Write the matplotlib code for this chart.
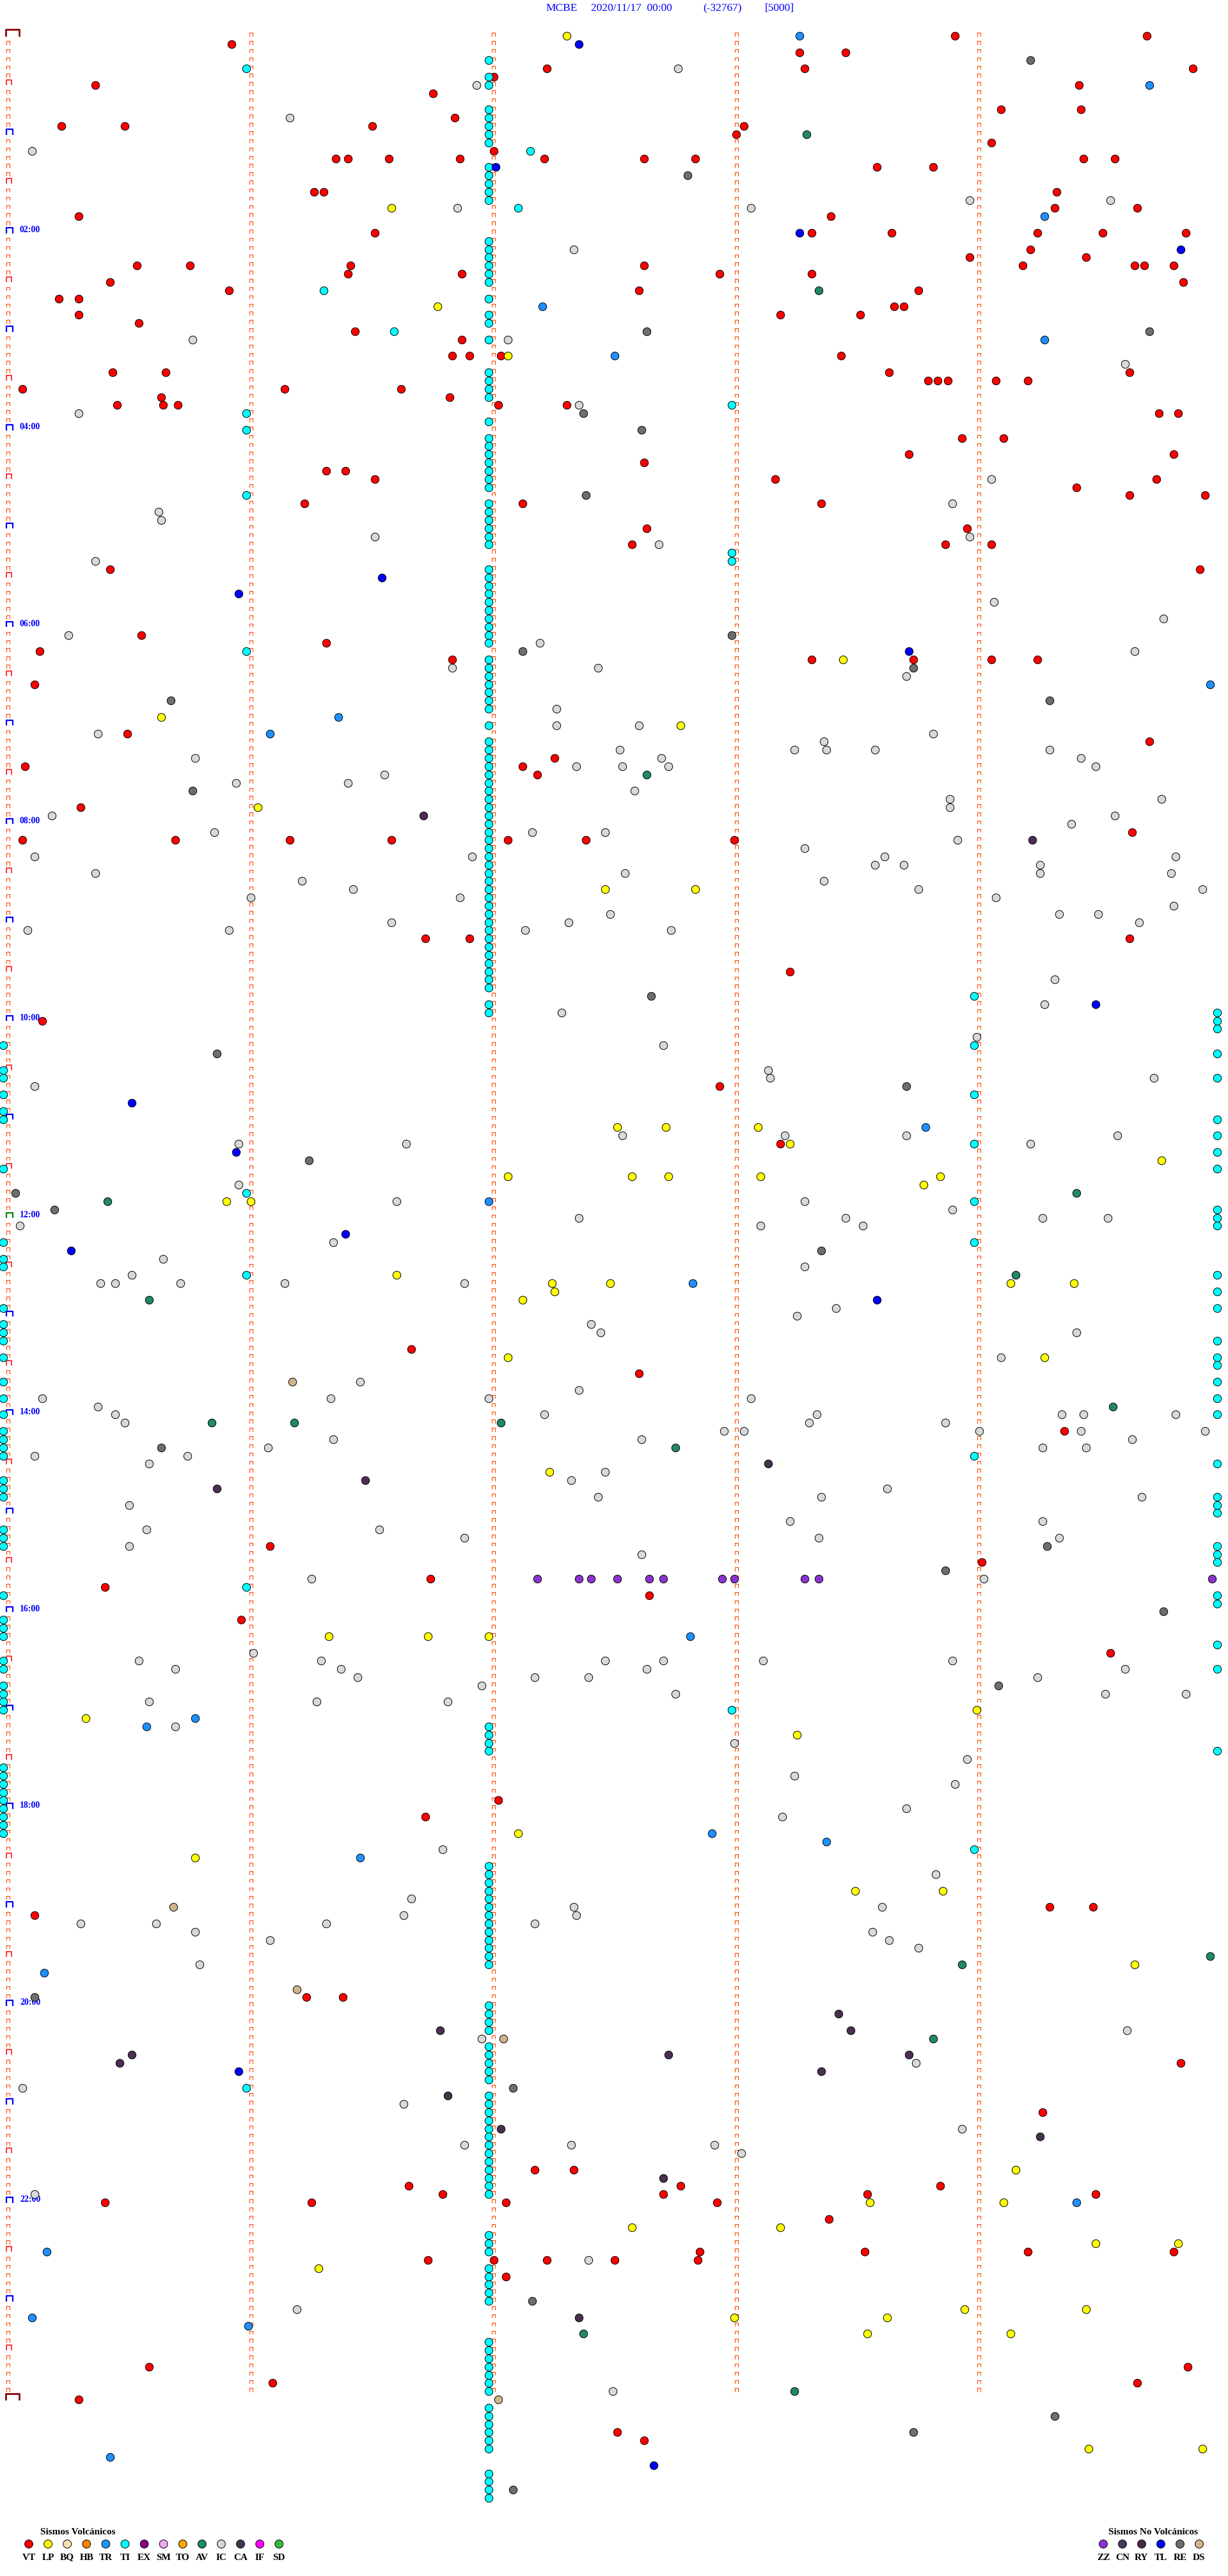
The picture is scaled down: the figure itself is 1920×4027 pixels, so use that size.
import matplotlib.pyplot as plt
from matplotlib.collections import LineCollection

plt.rcParams['font.family'] = ['Liberation Serif', 'DejaVu Serif']

# events: (5-minute line index, minute inside the line)
vt = [(0, 3.90), (0, 4.69), (1, 0.92), (2, 3.26), (2, 3.45), (4, 2.22), (4, 3.28), (4, 4.88), (5, 2.00),
      (6, 0.36), (6, 4.41), (7, 1.75), (9, 4.09), (9, 4.42), (10, 1.84), (11, 0.22), (11, 0.48), (11, 1.50),
      (11, 3.03), (12, 3.00), (13, 4.05), (14, 2.00), (15, 1.35), (15, 1.40), (15, 1.57), (15, 1.86), (15, 2.21),
      (15, 2.62), (15, 2.83), (15, 4.43), (15, 4.56), (16, 3.58), (16, 3.81), (19, 1.26), (19, 1.30), (19, 4.32),
      (21, 4.31), (21, 4.65), (22, 0.29), (22, 3.39), (24, 1.51), (24, 3.31), (24, 3.64), (24, 4.24), (24, 4.51),
      (24, 4.85), (26, 4.21), (27, 3.96), (27, 4.44), (28, 0.53), (28, 0.75), (28, 1.41), (28, 2.62), (28, 4.18),
      (28, 4.64), (28, 4.68), (28, 4.80), (29, 1.40), (29, 1.87), (29, 2.93), (29, 3.31), (30, 0.42), (30, 4.84),
      (31, 0.91), (31, 2.60), (31, 3.75), (32, 0.21), (32, 0.29), (33, 3.65), (33, 3.69), (34, 0.29), (34, 3.18),
      (34, 3.51), (35, 0.54), (36, 1.43), (37, 1.87), (39, 1.83), (39, 1.90), (39, 2.03), (39, 3.43), (41, 0.43),
      (41, 0.65), (41, 3.63), (41, 4.62), (42, 3.79), (42, 3.83), (42, 3.87), (42, 4.07), (42, 4.20), (43, 0.06),
      (43, 1.14), (43, 1.62), (44, 0.63), (44, 1.82), (45, 0.45), (45, 0.64), (45, 0.70), (45, 2.02), (45, 2.30),
      (46, 4.74), (46, 4.82), (49, 3.93), (49, 4.10), (51, 3.71), (51, 4.80), (52, 2.62), (53, 1.31), (53, 1.39),
      (54, 1.51), (54, 3.16), (54, 4.73), (55, 4.40), (56, 4.62), (56, 4.93), (57, 1.22), (57, 2.12), (57, 3.35),
      (60, 2.63), (60, 3.95), (62, 2.57), (62, 3.86), (62, 4.05), (65, 0.42), (65, 4.91), (73, 0.55), (74, 1.31),
      (75, 0.13), (76, 1.83), (76, 3.31), (76, 3.73), (76, 4.05), (76, 4.24), (79, 0.11), (85, 0.49), (86, 4.70),
      (88, 2.25), (89, 0.07), (89, 2.12), (90, 2.18), (94, 0.30), (97, 4.63), (98, 0.06), (98, 0.69), (98, 1.16),
      (98, 1.58), (98, 2.06), (98, 2.38), (98, 2.99), (110, 1.72), (110, 1.90), (110, 4.62), (114, 3.22),
      (120, 0.14), (128, 2.93), (135, 3.18), (160, 1.66), (163, 2.60), (170, 4.35), (184, 1.08), (186, 4.01),
      (188, 1.74), (189, 0.40), (190, 2.64), (193, 0.96), (197, 4.54), (215, 2.02), (217, 1.72), (228, 4.29),
      (228, 4.47), (229, 0.11), (239, 1.23), (239, 1.38), (247, 4.83), (253, 4.26), (260, 2.17), (260, 2.33),
      (262, 1.65), (262, 2.77), (262, 3.84), (263, 1.79), (263, 2.70), (263, 3.54), (263, 4.48), (264, 0.40),
      (264, 1.25), (264, 2.05), (264, 2.92), (266, 3.38), (270, 2.85), (270, 3.53), (270, 4.20), (270, 4.80),
      (271, 1.73), (271, 2.00), (271, 2.22), (271, 2.50), (271, 2.84), (273, 2.05), (284, 0.58), (284, 4.86),
      (286, 1.09), (286, 4.65), (288, 0.29), (292, 2.51), (293, 2.62)]

lp = [(0, 2.30), (21, 1.58), (33, 1.77), (39, 2.06), (76, 3.44), (83, 0.63), (84, 2.77), (94, 1.03), (104, 2.46),
      (104, 2.83), (133, 2.51), (133, 2.71), (133, 3.09), (135, 3.22), (137, 4.75), (139, 2.06), (139, 2.57),
      (139, 2.72), (139, 3.10), (139, 3.84), (140, 3.77), (142, 0.90), (142, 1.00), (151, 1.60), (152, 2.24),
      (152, 2.48), (152, 4.13), (152, 4.39), (153, 2.25), (154, 2.12), (161, 2.06), (161, 4.27), (175, 2.23),
      (195, 1.32), (195, 1.73), (195, 1.98), (204, 3.99), (205, 0.32), (207, 3.25), (219, 2.10), (222, 0.77),
      (226, 3.49), (226, 3.85), (235, 4.64), (260, 4.15), (264, 3.55), (264, 4.10), (267, 2.57), (267, 3.18),
      (269, 4.48), (269, 4.82), (272, 1.28), (277, 3.94), (277, 4.44), (278, 2.99), (278, 3.62), (280, 3.54),
      (280, 4.13), (294, 4.45), (294, 4.92)]

tr = [(0, 3.26), (6, 4.70), (22, 4.27), (33, 2.20), (37, 4.27), (39, 2.50), (79, 4.95), (83, 1.36), (85, 1.08),
      (133, 3.78), (142, 1.98), (152, 2.82), (195, 2.81), (205, 0.77), (206, 0.57), (219, 2.90), (220, 3.37),
      (222, 1.45), (236, 0.15), (264, 4.40), (270, 0.16), (278, 0.10), (279, 0.99), (295, 0.42)]

ti = [(3, 1.98), (4, 0.98), (5, 1.98), (6, 1.98), (9, 1.98), (10, 1.98), (11, 1.98), (12, 1.98), (13, 1.98),
      (14, 2.15), (16, 1.98), (17, 1.98), (18, 1.98), (19, 1.98), (20, 1.98), (21, 2.10), (25, 1.98), (26, 1.98),
      (27, 1.98), (28, 1.98), (29, 1.98), (30, 1.98), (31, 1.30), (32, 1.98), (34, 1.98), (35, 1.98), (36, 1.59),
      (37, 1.98), (41, 1.98), (42, 1.98), (43, 1.98), (44, 1.98), (45, 2.98), (46, 0.98), (47, 1.98), (48, 0.98),
      (49, 1.98), (50, 1.98), (51, 1.98), (52, 1.98), (53, 1.98), (54, 1.98), (55, 1.98), (56, 0.98), (57, 1.98),
      (58, 1.98), (59, 1.98), (60, 1.98), (61, 1.98), (62, 1.98), (63, 2.98), (64, 2.98), (65, 1.98), (66, 1.98),
      (67, 1.98), (68, 1.98), (69, 1.98), (70, 1.98), (71, 1.98), (72, 1.98), (73, 1.98), (74, 1.98), (75, 0.98),
      (76, 1.98), (77, 1.98), (78, 1.98), (79, 1.98), (80, 1.98), (81, 1.98), (82, 1.98), (84, 1.98), (86, 1.98),
      (87, 1.98), (88, 1.98), (89, 1.98), (90, 1.98), (91, 1.98), (92, 1.98), (93, 1.98), (94, 1.98), (95, 1.98),
      (96, 1.98), (97, 1.98), (98, 1.98), (99, 1.98), (100, 1.98), (101, 1.98), (102, 1.98), (103, 1.98),
      (104, 1.98), (105, 1.98), (106, 1.98), (107, 1.98), (108, 1.98), (109, 1.98), (110, 1.98), (111, 1.98),
      (112, 1.98), (113, 1.98), (114, 1.98), (115, 1.98), (116, 1.98), (117, 3.98), (118, 1.98), (119, 1.98),
      (119, 4.98), (120, 4.98), (121, 4.98), (123, -0.02), (123, 3.98), (124, 4.98), (126, -0.02), (127, -0.02),
      (127, 4.98), (129, -0.02), (129, 3.98), (131, -0.02), (132, -0.02), (132, 4.98), (134, 4.98), (135, 3.98),
      (136, 4.98), (138, -0.02), (138, 4.98), (141, 0.98), (142, 3.98), (143, 4.98), (144, 4.98), (145, 4.98),
      (147, -0.02), (147, 3.98), (149, -0.02), (150, -0.02), (151, 0.98), (151, 4.98), (153, 4.98), (155, -0.02),
      (155, 4.98), (157, -0.02), (158, -0.02), (159, -0.02), (159, 4.98), (161, -0.02), (161, 4.98), (162, 4.98),
      (164, -0.02), (164, 4.98), (166, -0.02), (166, 4.98), (168, -0.02), (168, 4.98), (170, -0.02), (171, -0.02),
      (172, -0.02), (173, -0.02), (173, 3.98), (174, 4.98), (176, -0.02), (177, -0.02), (178, -0.02), (178, 4.98),
      (179, 4.98), (180, 4.98), (182, -0.02), (183, -0.02), (184, -0.02), (184, 4.98), (185, 4.98), (186, 4.98),
      (189, 0.98), (190, -0.02), (190, 4.98), (191, 4.98), (193, -0.02), (194, -0.02), (195, -0.02), (196, 4.98),
      (198, -0.02), (199, -0.02), (199, 4.98), (201, -0.02), (202, -0.02), (203, -0.02), (204, -0.02), (204, 2.98),
      (206, 1.98), (207, 1.98), (208, 1.98), (209, 1.98), (209, 4.98), (211, -0.02), (212, -0.02), (213, -0.02),
      (214, -0.02), (215, -0.02), (216, -0.02), (217, -0.02), (218, -0.02), (219, -0.02), (221, 3.98), (223, 1.98),
      (224, 1.98), (225, 1.98), (226, 1.98), (227, 1.98), (228, 1.98), (229, 1.98), (230, 1.98), (231, 1.98),
      (232, 1.98), (233, 1.98), (234, 1.98), (235, 1.98), (240, 1.98), (241, 1.98), (242, 1.98), (243, 1.98),
      (245, 1.98), (246, 1.98), (247, 1.98), (248, 1.98), (249, 1.98), (250, 0.98), (251, 1.98), (252, 1.98),
      (253, 1.98), (254, 1.98), (255, 1.98), (256, 1.98), (257, 1.98), (258, 1.98), (259, 1.98), (260, 1.98),
      (261, 1.98), (262, 1.98), (263, 1.98), (268, 1.98), (269, 1.98), (270, 1.98), (272, 1.98), (273, 1.98),
      (274, 1.98), (275, 1.98), (276, 1.98), (281, 1.98), (282, 1.98), (283, 1.98), (284, 1.98), (285, 1.98),
      (286, 1.98), (287, 1.98), (289, 1.98), (290, 1.98), (291, 1.98), (292, 1.98), (293, 1.98), (294, 1.98),
      (297, 1.98), (298, 1.98), (299, 1.98), (300, 1.98)]

av = [(12, 3.29), (31, 3.34), (90, 2.63), (141, 4.40), (142, 0.41), (151, 4.15), (154, 0.58), (167, 4.55),
      (169, 0.84), (169, 1.18), (169, 2.03), (172, 2.75), (234, 4.95), (235, 3.93), (244, 3.81), (280, 2.37),
      (287, 3.24)]

ic = [(4, 2.76), (6, 1.93), (10, 1.16), (14, 0.10), (20, 3.96), (20, 4.54), (21, 1.85), (21, 3.06), (26, 2.33),
      (37, 0.76), (37, 2.06), (40, 4.60), (45, 2.35), (46, 0.29), (54, 4.05), (57, 3.89), (58, 0.62), (59, 0.63),
      (61, 1.51), (61, 3.96), (62, 2.68), (64, 0.36), (69, 4.06), (71, 4.76), (73, 0.25), (74, 2.19), (75, 4.64),
      (77, 1.83), (77, 2.43), (78, 3.70), (82, 2.26), (84, 2.26), (84, 2.60), (85, 0.37), (85, 3.81), (86, 3.36),
      (87, 2.52), (87, 3.24), (87, 3.37), (87, 3.57), (87, 4.29), (88, 0.77), (88, 2.69), (88, 4.42), (89, 2.34),
      (89, 2.53), (89, 2.72), (89, 4.48), (90, 1.55), (91, 0.94), (91, 1.40), (92, 2.58), (93, 3.88), (93, 4.75),
      (94, 3.88), (95, 0.18), (95, 4.56), (96, 4.38), (97, 0.85), (97, 2.16), (97, 2.46), (98, 3.91), (99, 3.28),
      (100, 0.11), (100, 1.91), (100, 3.61), (100, 4.81), (101, 3.57), (101, 3.69), (101, 4.25), (102, 0.36),
      (102, 2.54), (102, 4.25), (102, 4.79), (103, 1.21), (103, 3.36), (104, 1.42), (104, 3.75), (104, 4.92),
      (105, 1.00), (105, 1.86), (105, 4.07), (106, 4.80), (107, 2.48), (107, 4.33), (107, 4.49), (108, 1.58),
      (108, 2.31), (108, 4.66), (109, 0.08), (109, 0.91), (109, 2.13), (109, 2.73), (115, 4.31), (118, 4.27),
      (119, 2.28), (122, 3.99), (123, 2.70), (126, 3.13), (127, 3.14), (127, 4.72), (128, 0.11), (134, 2.53),
      (134, 3.20), (134, 3.70), (134, 4.57), (135, 0.95), (135, 1.64), (135, 4.21), (140, 0.95), (142, 1.60),
      (142, 3.28), (143, 3.89), (144, 2.35), (144, 3.45), (144, 4.26), (144, 4.53), (145, 0.05), (145, 3.10),
      (145, 3.52), (147, 1.34), (149, 0.64), (150, 3.28), (151, 0.51), (152, 0.38), (152, 0.44), (152, 0.71),
      (152, 1.14), (152, 1.88), (155, 3.41), (156, 3.25), (157, 2.40), (158, 2.44), (158, 4.40), (161, 4.09),
      (164, 1.45), (165, 2.35), (166, 0.14), (166, 1.33), (166, 1.98), (166, 3.06), (167, 0.37), (168, 0.44),
      (168, 2.21), (168, 3.33), (168, 4.34), (168, 4.43), (168, 4.81), (169, 0.48), (169, 3.30), (169, 3.86),
      (170, 2.95), (170, 3.03), (170, 4.00), (170, 4.42), (170, 4.93), (171, 1.34), (171, 2.61), (171, 4.63),
      (172, 1.07), (172, 4.26), (172, 4.44), (173, 0.11), (173, 0.74), (174, 0.58), (175, 2.46), (176, 2.32),
      (177, 3.62), (178, 2.43), (178, 3.35), (178, 4.67), (179, 0.50), (181, 3.22), (181, 4.26), (182, 0.57),
      (182, 1.53), (183, 1.88), (183, 3.34), (183, 4.33), (184, 0.50), (185, 2.61), (188, 1.25), (188, 4.02),
      (197, 1.01), (198, 0.54), (198, 1.29), (198, 2.46), (198, 2.70), (198, 3.11), (198, 3.89), (199, 0.69),
      (199, 1.37), (199, 2.63), (199, 4.60), (200, 1.44), (200, 2.17), (200, 2.39), (200, 4.24), (201, 1.95),
      (202, 2.75), (202, 4.52), (202, 4.85), (203, 0.58), (203, 1.27), (203, 1.81), (206, 0.69), (208, 2.99),
      (210, 3.95), (212, 3.24), (213, 3.90), (216, 3.70), (217, 3.19), (221, 1.79), (224, 3.82), (227, 1.66),
      (228, 2.33), (228, 3.60), (229, 1.63), (229, 2.34), (230, 0.30), (230, 0.61), (230, 1.31), (230, 2.17),
      (231, 0.77), (231, 3.56), (232, 1.08), (232, 3.63), (233, 3.75), (235, 0.79), (243, 4.61), (244, 1.95),
      (247, 3.74), (250, 0.06), (252, 1.63), (255, 3.93), (257, 1.88), (257, 2.32), (257, 2.91), (258, 3.02),
      (263, 0.11), (271, 2.39), (277, 1.19), (287, 2.49)]

ca = [(95, 1.71), (98, 4.22), (174, 3.13), (176, 1.47), (177, 0.86), (241, 3.42), (243, 1.78), (243, 3.47),
      (246, 0.51), (246, 2.72), (246, 3.71), (247, 0.46), (248, 3.35), (251, 1.81), (255, 2.03), (256, 4.25),
      (261, 2.70), (278, 2.35)]

zz = [(188, 2.18), (188, 2.35), (188, 2.40), (188, 2.51), (188, 2.64), (188, 2.70), (188, 2.94), (188, 2.99),
      (188, 3.28), (188, 3.34), (188, 4.96)]

tl = [(1, 2.35), (16, 2.01), (24, 3.26), (26, 4.83), (66, 1.54), (68, 0.95), (75, 3.71), (118, 4.48), (130, 0.51),
      (136, 0.94), (146, 1.39), (148, 0.26), (154, 3.58), (248, 0.95), (296, 2.66)]

re = [(3, 4.21), (17, 2.80), (36, 2.63), (36, 4.70), (46, 2.37), (48, 2.61), (56, 2.38), (73, 2.98), (75, 2.12),
      (77, 3.73), (81, 0.67), (81, 4.29), (92, 0.76), (117, 2.65), (124, 0.86), (128, 3.70), (137, 1.24),
      (141, 0.03), (143, 0.19), (148, 3.35), (172, 0.63), (184, 4.28), (187, 3.86), (192, 4.76), (201, 4.08),
      (239, 0.11), (250, 2.08), (276, 2.16), (290, 4.31), (292, 3.73), (299, 2.08)]

ds = [(164, 1.17), (228, 0.68), (238, 1.19), (244, 2.04), (288, 2.02)]

volc_codes = ['VT', 'LP', 'BQ', 'HB', 'TR', 'TI', 'EX', 'SM', 'TO', 'AV', 'IC', 'CA', 'IF', 'SD']
volc_colors = ['#ff0000', '#ffff00', '#f0e6a8', '#ff8000', '#1e90ff', '#00ffff', '#880088', '#eeaaee',
               '#ffa500', '#228866', '#d8d8d8', '#4a3050', '#ff00ff', '#33bb33']
novolc_codes = ['ZZ', 'CN', 'RY', 'TL', 'RE', 'DS']
novolc_colors = ['#8a33d0', '#4a3a5c', '#4b2848', '#0000ff', '#6e6e6e', '#d2b48c']

events = {'VT': vt, 'LP': lp, 'TR': tr, 'TI': ti, 'AV': av, 'IC': ic, 'CA': ca,
          'ZZ': zz, 'TL': tl, 'RE': re, 'DS': ds}

W, H = 1920, 4027
X0, PX_MIN = 12.5, 379.6   # pixel of minute 0, pixels per minute
Y0, PX_ROW = 56.0, 12.83   # pixel of line 0, pixels per line
N_ROWS = 288
TICK = '#ff4500'

fig = plt.figure(figsize=(W / 100, H / 100), dpi=100)
ax = fig.add_axes([0, 0, 1, 1])
ax.set_xlim(-X0 / PX_MIN, (W - X0) / PX_MIN)
ax.set_ylim((H - Y0) / PX_ROW, -Y0 / PX_ROW)
ax.axis('off')


def bracket(xc_px, r, w_px, top_px, bot_px):
    xc = xc_px / PX_MIN
    hw = w_px / 2 / PX_MIN
    yt = r - top_px / PX_ROW
    yb = r + bot_px / PX_ROW
    return [(xc - hw, yb), (xc - hw, yt), (xc + hw, yt), (xc + hw, yb)]


# small ticks on every line at each minute
small = []
for r in range(N_ROWS):
    for c in range(5):
        if c == 0 and r % 6 == 0:
            continue
        small.append(bracket(c * PX_MIN, r, 5, 4.8, 0.7))
ax.add_collection(LineCollection(small, colors=TICK, linewidths=0.8))

# half hour / hour / day marks on the left
for r in range(0, N_ROWS + 1, 6):
    if r == 0 or r == N_ROWS:
        seg, col, lw = bracket(7.5, r, 21, 9.5, 0.7), '#8b0000', 2.0
    elif r % 12 == 6:
        seg, col, lw = bracket(1.8, r, 8, 7.7, 0.3), '#ff0000', 1.1
    else:
        seg, col, lw = bracket(2.5, r, 10, 7.8, 0.7), '#008000' if r == 144 else '#0000ff', 1.6
    ax.add_collection(LineCollection([seg], colors=col, linewidths=lw))

for h in range(2, 24, 2):
    ax.text(18.5 / PX_MIN, h * 12 - 4.3 / PX_ROW, f'{h:02d}:00', color='#0000ff',
            fontsize=10, fontweight='bold', va='center', ha='left')

# events
all_codes = volc_codes + novolc_codes
all_colors = volc_colors + novolc_colors
for i, (code, color) in enumerate(zip(all_codes, all_colors)):
    pts = events.get(code, [])
    if not pts:
        continue
    rows = [p[0] for p in pts]
    mins = [p[1] for p in pts]
    ax.scatter(mins, rows, s=80, c=color, edgecolors='black', linewidths=0.7, zorder=3 + i)

# header and legends, in pixel coordinates
lax = fig.add_axes([0, 0, 1, 1], facecolor='none')
lax.set_xlim(0, W)
lax.set_ylim(H, 0)
lax.axis('off')

for x, s in [(853, 'MCBE'), (924, '2020/11/17  00:00'), (1099, '(-32767)'), (1196, '[5000]')]:
    lax.text(x, 13, s, color='#0000ff', fontsize=12.5, va='center', ha='left')

lax.text(63, 3962, 'Sismos Volcánicos', fontsize=11, fontweight='bold', va='baseline')
vx = [45 + 30.1 * i for i in range(len(volc_codes))]
lax.scatter(vx, [3977] * len(vx), s=85, c=volc_colors, edgecolors='black', linewidths=0.7)
for x, code in zip(vx, volc_codes):
    lax.text(x, 3998, code, fontsize=11, fontweight='bold', ha='center', va='center')

lax.text(1733, 3962, 'Sismos No Volcánicos', fontsize=11, fontweight='bold', va='baseline')
nx = [1725 + 30 * i for i in range(len(novolc_codes))]
lax.scatter(nx, [3977] * len(nx), s=85, c=novolc_colors, edgecolors='black', linewidths=0.7)
for x, code in zip(nx, novolc_codes):
    lax.text(x, 3998, code, fontsize=11, fontweight='bold', ha='center', va='center')

fig.savefig('out.png', dpi=100)
